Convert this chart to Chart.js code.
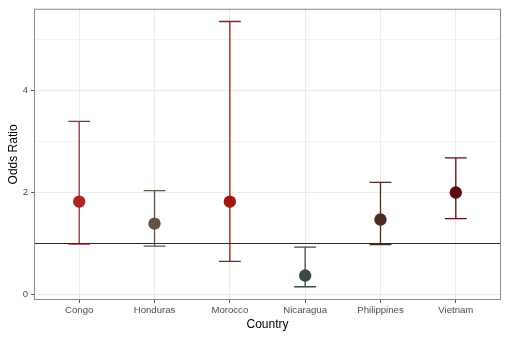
<!DOCTYPE html>
<html>
<head>
<meta charset="utf-8">
<script src="https://cdn.jsdelivr.net/npm/chart.js@4"></script>
<style>
  html, body { margin: 0; padding: 0; background: #ffffff; }
  #box { width: 509px; height: 338px; }
</style>
</head>
<body>
<div id="box"><canvas id="grafico"></canvas></div>
<script>
const countries = ['Congo', 'Honduras', 'Morocco', 'Nicaragua', 'Philippines', 'Vietnam'];
const oddsRatio = [1.82, 1.39, 1.82, 0.37, 1.47, 2.00];
const ciLower = [0.99, 0.95, 0.65, 0.15, 0.98, 1.49];
const ciUpper = [3.40, 2.04, 5.36, 0.93, 2.20, 2.68];
const countryColors = ['#a8282a', '#5e5346', '#a01818', '#3a4a4a', '#4b2a22', '#5e0b12'];
const yTicks = [0, 1, 2, 3, 4, 5];
const refLine = 1;

const fonte = 'Liberation Sans, Arial, Helvetica, sans-serif';
const capHalf = 0.145;

// linhas dos intervalos: haste + duas barrinhas
const barras = [];
countries.forEach((c, i) => {
  const base = {
    type: 'line',
    borderColor: countryColors[i],
    borderWidth: 1.3,
    pointRadius: 0,
    fill: false
  };
  barras.push({ ...base, data: [{ x: i, y: ciLower[i] }, { x: i, y: ciUpper[i] }] });
  barras.push({ ...base, data: [{ x: i - capHalf, y: ciUpper[i] }, { x: i + capHalf, y: ciUpper[i] }] });
  barras.push({ ...base, data: [{ x: i - capHalf, y: ciLower[i] }, { x: i + capHalf, y: ciLower[i] }] });
});

const pontos = {
  type: 'scatter',
  data: oddsRatio.map((v, i) => ({ x: i, y: v })),
  pointRadius: 6.2,
  pointBackgroundColor: countryColors,
  pointBorderColor: countryColors,
  pointBorderWidth: 0
};

const linhaRef = {
  type: 'line',
  data: [{ x: -0.6, y: refLine }, { x: countries.length - 0.4, y: refLine }],
  borderColor: '#2b2b2b',
  borderWidth: 1.1,
  pointRadius: 0
};

// moldura do painel (estilo theme_bw)
const moldura = {
  id: 'moldura',
  afterDatasetsDraw(chart) {
    const { ctx, chartArea: a } = chart;
    ctx.save();
    ctx.strokeStyle = '#8a8a8a';
    ctx.lineWidth = 1;
    ctx.strokeRect(a.left + 0.5, a.top + 0.5, a.right - a.left - 1, a.bottom - a.top - 1);
    ctx.restore();
  }
};

new Chart(document.getElementById('grafico'), {
  type: 'scatter',
  data: { datasets: [pontos, linhaRef, ...barras] },
  plugins: [moldura],
  options: {
    responsive: true,
    maintainAspectRatio: false,
    animation: false,
    events: [],
    layout: { padding: { left: 0, top: 8, right: 8, bottom: 0 } },
    plugins: { legend: { display: false }, tooltip: { enabled: false } },
    scales: {
      x: {
        type: 'linear',
        min: -0.6,
        max: countries.length - 0.4,
        afterBuildTicks: (s) => { s.ticks = countries.map((c, i) => ({ value: i })); },
        afterFit: (s) => { s.height = 38; },
        border: { display: false },
        grid: { color: '#ebebeb', lineWidth: 1, tickColor: '#555555', tickLength: 3 },
        ticks: {
          color: '#4d4d4d',
          font: { family: fonte, size: 9.6 },
          padding: 2,
          maxRotation: 0,
          callback: (v) => countries[v]
        },
        title: {
          display: true,
          text: 'Country',
          color: '#000000',
          font: { family: fonte, size: 12 },
          padding: { top: 0, bottom: 6 }
        }
      },
      y: {
        min: -0.11,
        max: 5.61,
        afterBuildTicks: (s) => { s.ticks = yTicks.map(v => ({ value: v })); },
        afterFit: (s) => { s.width = 34; },
        border: { display: false },
        grid: {
          color: '#ebebeb',
          lineWidth: (c) => (c.tick && c.tick.value % 2 === 0 ? 1 : 0.6),
          tickColor: (c) => (c.tick && c.tick.value % 2 === 0 ? '#555555' : 'rgba(0,0,0,0)'),
          tickLength: 3
        },
        ticks: {
          color: '#4d4d4d',
          font: { family: fonte, size: 9.6 },
          padding: 3,
          callback: (v) => (v % 2 === 0 ? String(v) : '')
        },
        title: {
          display: true,
          text: 'Odds Ratio',
          color: '#000000',
          font: { family: fonte, size: 12 },
          padding: { top: 6, bottom: 0 }
        }
      }
    }
  }
});
</script>
</body>
</html>
